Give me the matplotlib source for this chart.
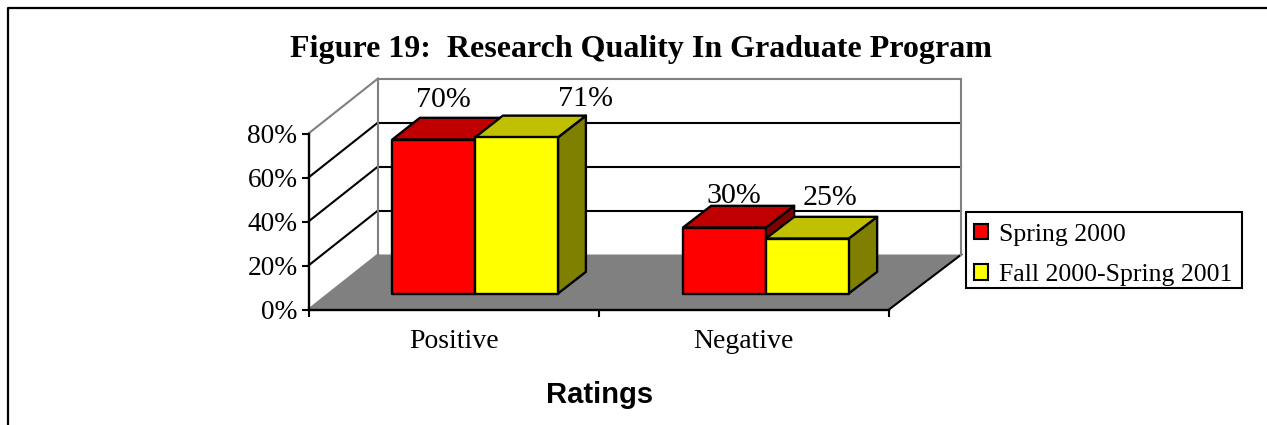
import matplotlib
matplotlib.use("Agg")
import matplotlib.pyplot as plt
from matplotlib.patches import Patch, Rectangle
from matplotlib.lines import Line2D

categories = ["Positive", "Negative"]
series_names = ["Spring 2000", "Fall 2000-Spring 2001"]
spring_2000 = [70, 30]
fall_2000_spring_2001 = [71, 25]
value_labels = [["70%", "30%"], ["71%", "25%"]]
y_ticks = [0, 20, 40, 60, 80]
y_tick_labels = ["0%", "20%", "40%", "60%", "80%"]

face_colors = ["#FF0000", "#FFFF00"]
top_colors = ["#C00000", "#C0C000"]
side_colors = ["#800000", "#808000"]

W, H = 1267, 425
SERIF = "Liberation Serif"
SANS = "Liberation Sans"

# oblique projection: d=0 is the front of the floor, d=1 the back wall
DX = 69.5 / 290.25
DY = 55 / 2.2
SPREAD = 0.005
BAR_W = 0.285
BAR_SHIFT = 0.004
D0, D1 = 0.29, 0.685


def proj(x, v, d):
    return x * (1 + SPREAD * d) + d * DX, v + d * DY


def poly(ax, pts, **kw):
    xy = [proj(*p) for p in pts]
    ax.fill([p[0] for p in xy], [p[1] for p in xy], clip_on=False, **kw)


def line(ax, a, b, color, lw):
    pa, pb = proj(*a), proj(*b)
    ax.plot([pa[0], pb[0]], [pa[1], pb[1]], color=color, lw=lw,
            clip_on=False, solid_capstyle="projecting", zorder=1)


fig = plt.figure(figsize=(W / 100, H / 100), dpi=100)
ax = fig.add_axes([308.5 / W, 1 - 309.5 / H, 580.5 / W, 176 / H])
ax.set_xlim(0, 2)
ax.set_ylim(0, 80)
ax.patch.set_visible(False)

# page border
fig.add_artist(Line2D([8.3 / W, 8.3 / W, 1], [0, 1 - 8.3 / H, 1 - 8.3 / H],
                      color="black", lw=1.6))

# floor
poly(ax, [(0, 0, 0), (2, 0, 0), (2, 0, 1), (0, 0, 1)],
     facecolor="#808080", edgecolor="none", zorder=1)
line(ax, (2, 0, 0), (2, 0, 1), "black", 1.5)

# walls and gridlines
for t in y_ticks[1:-1]:
    line(ax, (0, t, 0), (0, t, 1), "black", 1.5)
    line(ax, (0, t, 1), (2, t, 1), "black", 1.5)
line(ax, (0, 80, 0), (0, 80, 1), "#808080", 1.5)
line(ax, (0, 80, 1), (2, 80, 1), "#808080", 1.5)
line(ax, (0, 0, 1), (0, 80, 1), "#808080", 1.5)
line(ax, (2, 0, 1), (2, 80, 1), "#808080", 1.5)
line(ax, (0, 0, 0), (0, 0, 1), "#808080", 1.5)

# bars, red behind yellow
edge = dict(edgecolor="black", linewidth=1.7, joinstyle="round")
series = [spring_2000, fall_2000_spring_2001]
for c in range(len(categories)):
    left = c + 0.5 - BAR_W + BAR_SHIFT
    for s, vals in enumerate(series):
        x0 = left + s * BAR_W
        x1 = x0 + BAR_W
        v = vals[c]
        z = 3 + c + s * 0.1
        poly(ax, [(x1, 0, D0), (x1, 0, D1), (x1, v, D1), (x1, v, D0)],
             facecolor=side_colors[s], zorder=z, **edge)
        poly(ax, [(x0, v, D0), (x1, v, D0), (x1, v, D1), (x0, v, D1)],
             facecolor=top_colors[s], zorder=z, **edge)
        poly(ax, [(x0, 0, D0), (x1, 0, D0), (x1, v, D0), (x0, v, D0)],
             facecolor=face_colors[s], zorder=z, **edge)

# value labels, offset by hand like the original autolayout
label_offsets = [[(10, 40), (9, 32)], [(69, 38), (23, 41)]]
for s, vals in enumerate(series):
    for c, v in enumerate(vals):
        x0 = c + 0.5 - BAR_W + BAR_SHIFT + s * BAR_W
        px, py = proj(x0 + BAR_W / 2, v, D0)
        ax.annotate(value_labels[s][c], (px, py), xytext=label_offsets[s][c],
                    textcoords="offset pixels", ha="center", va="center",
                    fontsize=21.6, family=SERIF, color="black", zorder=8)

# axes
for name in ["top", "right"]:
    ax.spines[name].set_visible(False)
ax.spines["left"].set_linewidth(1.7)
ax.spines["bottom"].set_linewidth(1.7)
ax.set_yticks(y_ticks, y_tick_labels, fontsize=19.7, family=SERIF)
ax.set_xticks([0, 1, 2], ["", "", ""])
ax.set_xticks([0.5, 1.5], categories, minor=True, fontsize=20, family=SERIF)
ax.tick_params(axis="y", length=5, width=1.5, pad=3)
ax.tick_params(axis="x", which="major", length=5, width=1.5)
ax.tick_params(axis="x", which="minor", length=0, pad=14)

fig.text(641 / W, 1 - 49 / H, "Figure 19:  Research Quality In Graduate Program",
         ha="center", va="center", fontsize=23, fontweight="bold", family=SERIF)
fig.text(600 / W, 1 - 395 / H, "Ratings", ha="center", va="center",
         fontsize=21, fontweight="bold", family=SANS)

# legend frame drawn apart so the rows can sit lower in it
ax.add_patch(Rectangle((966 / W, 1 - 288 / H), 276 / W, 76 / H, transform=fig.transFigure,
                       facecolor="white", edgecolor="black", linewidth=1.5,
                       clip_on=False, zorder=9))
handles = [Patch(facecolor=face_colors[i], edgecolor="black", linewidth=1.5)
           for i in range(2)]
leg = ax.legend(handles, series_names, loc="upper left",
                bbox_to_anchor=(966 / W, 1 - 216 / H), bbox_transform=fig.transFigure,
                prop={"family": SERIF, "size": 18.5}, frameon=False,
                handlelength=0.55, handleheight=0.55,
                handletextpad=0.43, borderpad=0.3, labelspacing=0.72, borderaxespad=0)
leg.set_zorder(10)

fig.savefig("out.png", dpi=100)
